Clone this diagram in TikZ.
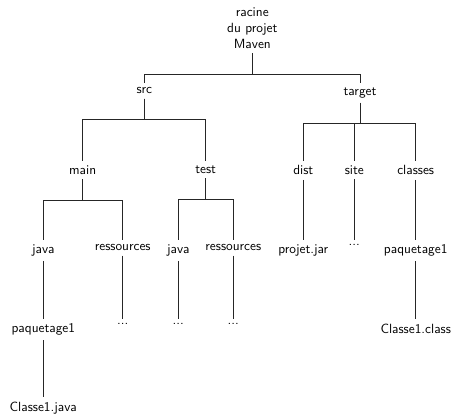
\documentclass[tikz,border=0pt]{standalone}
\begin{document}
\begin{tikzpicture}[x=0.75pt,y=0.75pt,
  lbl/.style={anchor=north,font=\sffamily,inner sep=3.33pt},
  link/.style={line width=0.6pt,draw=black!85}]
\useasboundingbox (0,0) rectangle (454,-418);
% nodes
\node[lbl,align=center] (root) at (252.3,-3) {racine\\du projet\\Maven};
\node[lbl] (src) at (144.3,-83) {src};
\node[lbl] (target) at (360,-83) {target};
\node[lbl] (main) at (82.7,-161) {main};
\node[lbl] (test) at (205.7,-161) {test};
\node[lbl] (dist) at (303.3,-161) {dist};
\node[lbl] (site) at (354.3,-161) {site};
\node[lbl] (classes) at (415.7,-161) {classes};
\node[lbl] (mjava) at (43.3,-240) {java};
\node[lbl] (mres) at (122.7,-240) {ressources};
\node[lbl] (tjava) at (178.3,-240) {java};
\node[lbl] (tres) at (233.3,-240) {ressources};
\node[lbl] (jar) at (303.3,-240) {projet.jar};
\node[lbl] (sitedots) at (354.3,-240) {...};
\node[lbl] (cpkg) at (415.7,-240) {paquetage1};
\node[lbl] (mpkg) at (43.3,-319) {paquetage1};
\node[lbl] (mresdots) at (122.7,-319) {...};
\node[lbl] (tjavadots) at (178.3,-319) {...};
\node[lbl] (tresdots) at (233.3,-319) {...};
\node[lbl] (cclass) at (415.7,-319) {Classe1.class};
\node[lbl] (cjava) at (43.3,-397) {Classe1.java};
% forks
\draw[link] (root.south) -- ++(0,-21) -| (src.north);
\draw[link] (root.south) -- ++(0,-21) -| (target.north);
\draw[link] (src.south) -- ++(0,-21) -| (main.north);
\draw[link] (src.south) -- ++(0,-21) -| (test.north);
\draw[link] (target.south) -- ++(0,-21) -| (dist.north);
\draw[link] (target.south) -- ++(0,-21) -| (site.north);
\draw[link] (target.south) -- ++(0,-21) -| (classes.north);
\draw[link] (main.south) -- ++(0,-21) -| (mjava.north);
\draw[link] (main.south) -- ++(0,-21) -| (mres.north);
\draw[link] (test.south) -- ++(0,-21) -| (tjava.north);
\draw[link] (test.south) -- ++(0,-21) -| (tres.north);
% straight edges
\draw[link] (dist.south) -- (jar.north);
\draw[link] (site.south) -- (sitedots.north);
\draw[link] (classes.south) -- (cpkg.north);
\draw[link] (mjava.south) -- (mpkg.north);
\draw[link] (mres.south) -- (mresdots.north);
\draw[link] (tjava.south) -- (tjavadots.north);
\draw[link] (tres.south) -- (tresdots.north);
\draw[link] (cpkg.south) -- (cclass.north);
\draw[link] (mpkg.south) -- (cjava.north);
\end{tikzpicture}
\end{document}
